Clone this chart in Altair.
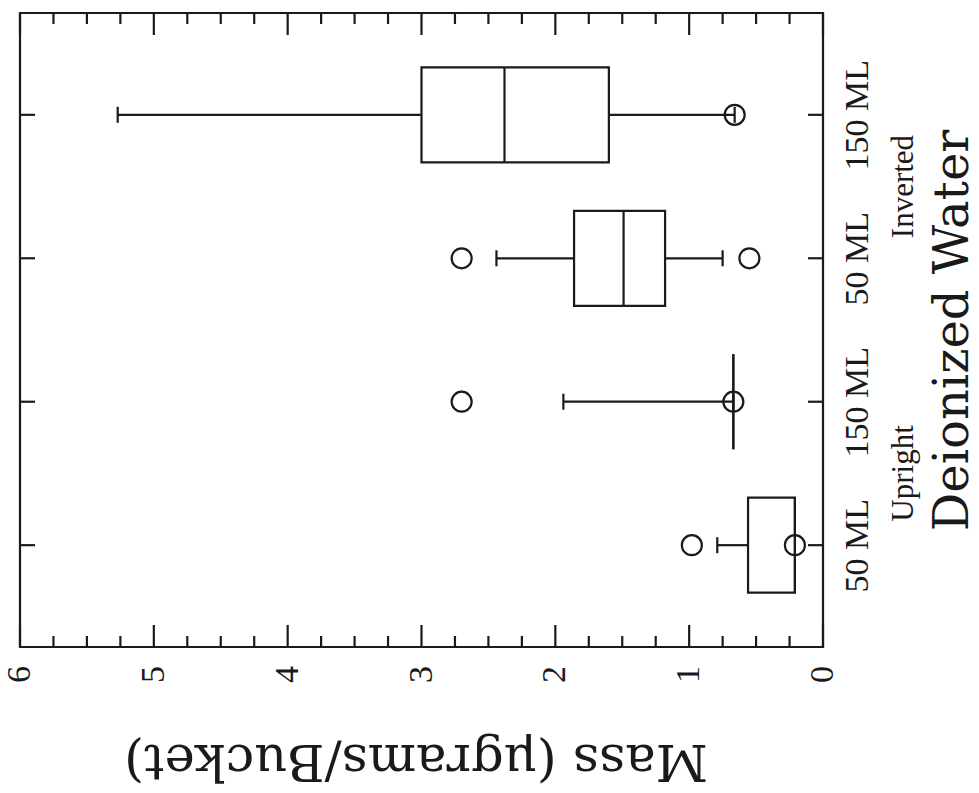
import altair as alt
import pandas as pd

# Box-plot summaries (mass per bucket, micrograms) for each collector setup
categories = ["50 ML", "150 ML", "50 ML", "150 ML"]
positions = [1, 2, 3, 4]
whisker_low = [0.21, 0.67, 0.75, 0.66]
q1 = [0.21, 0.67, 1.18, 1.60]
median = [0.21, 0.67, 1.49, 2.38]
q3 = [0.56, 0.67, 1.86, 3.00]
whisker_high = [0.79, 1.94, 2.44, 5.27]

# Individual points drawn as open circles
outlier_pos = [1, 1, 2, 2, 3, 3, 4]
outlier_val = [0.98, 0.21, 2.70, 0.67, 2.70, 0.55, 0.66]

# Orientation groups, each spanning two volumes
groups = ["Upright", "Inverted"]
group_pos = [1.5, 3.5]

# Axis tick values
major_ticks = [0, 1, 2, 3, 4, 5, 6]
minor_ticks = [v / 4 for v in range(25) if v % 4]

W, H = 803, 634
INK = "#1a1a1a"
BOX_H = 95
LW = 2.2

boxes = pd.DataFrame({
    "pos": positions, "lo": whisker_low, "q1": q1, "med": median,
    "q3": q3, "hi": whisker_high,
})
points = pd.DataFrame({"pos": outlier_pos, "val": outlier_val})
grp = pd.DataFrame({"pos": group_pos, "name": groups})
majors = pd.DataFrame({"v": major_ticks, "txt": [str(t) for t in major_ticks]})
minors = pd.DataFrame({"v": minor_ticks})

xscale = alt.Scale(domain=[0, 6], reverse=True, nice=False, zero=False)
yscale = alt.Scale(domain=[0.325, 4.675], nice=False, zero=False)

label_list = "[" + ",".join("'%s'" % c for c in categories) + "]"

xaxis = alt.Axis(
    values=major_ticks, orient="bottom", labels=False,
    domain=False, ticks=False, grid=False, tickSize=0,
    title="Mass (\u03bcgrams/Bucket)", titleFont="DejaVu Serif",
    titleFontSize=51, titleFontWeight="normal", titleColor=INK,
    titleAngle=180, titleAlign="center", titleBaseline="alphabetic",
    titleX=W / 2 - 6, titleY=97,
)
yaxis = alt.Axis(
    values=positions, orient="right", labelExpr=label_list + "[datum.value - 1]",
    domain=False, ticks=False, grid=False, tickSize=0,
    labelAngle=270, labelAlign="center", labelBaseline="top",
    labelPadding=17, labelFont="Liberation Serif", labelFontSize=34,
    labelColor=INK,
    title="Deionized Water", titleFont="DejaVu Serif", titleFontSize=48,
    titleFontWeight="normal", titleColor=INK,
    titleAngle=270, titleAlign="center", titleBaseline="alphabetic",
    titleX=144, titleY=H / 2,
)

X = lambda f: alt.X(f, type="quantitative", scale=xscale, axis=xaxis)
Y = lambda f: alt.Y(f, type="quantitative", scale=yscale, axis=yaxis)

base = alt.Chart(boxes)

whisk_low = base.mark_rule(color=INK, strokeWidth=LW).encode(
    x=X("lo"), x2="q1", y=Y("pos"))
whisk_high = base.mark_rule(color=INK, strokeWidth=LW).encode(
    x=X("q3"), x2="hi", y=Y("pos"))
caps_low = base.mark_tick(orient="vertical", size=16, thickness=LW, color=INK,
                          opacity=1).encode(x=X("lo"), y=Y("pos"))
caps_high = base.mark_tick(orient="vertical", size=16, thickness=LW, color=INK,
                           opacity=1).encode(x=X("hi"), y=Y("pos"))
box = base.mark_bar(height=BOX_H, fill="white", stroke=INK, strokeWidth=LW,
                    opacity=1).encode(x=X("q1"), x2="q3", y=Y("pos"))
med = base.mark_tick(orient="vertical", size=BOX_H, thickness=LW, color=INK,
                     opacity=1).encode(x=X("med"), y=Y("pos"))

circles = alt.Chart(points).mark_point(
    shape="circle", size=400, filled=False, stroke=INK, strokeWidth=LW, opacity=1
).encode(x=X("val"), y=Y("pos"))

group_text = alt.Chart(grp).mark_text(
    angle=270, align="center", baseline="alphabetic",
    font="Liberation Serif", fontSize=31, color=INK
).encode(text="name:N", y=Y("pos"), x=alt.value(W + 90))

# Value labels under the frame, turned like the rest of the text
value_labels = alt.Chart(majors).mark_text(
    angle=270, align="right", baseline="middle",
    font="Liberation Serif", fontSize=34, color=INK
).encode(text="txt:N", x=X("v"), y=alt.value(H + 19))

# Inward frame ticks
def frame_ticks(df, length):
    bottom = alt.Chart(df).mark_rule(color=INK, strokeWidth=LW).encode(
        x=X("v"), y=alt.value(H), y2=alt.value(H - length))
    top = alt.Chart(df).mark_rule(color=INK, strokeWidth=LW).encode(
        x=X("v"), y=alt.value(0), y2=alt.value(length))
    return bottom + top

side = alt.Chart(boxes)
side_ticks = side.mark_rule(color=INK, strokeWidth=LW).encode(
    y=Y("pos"), x=alt.value(0), x2=alt.value(15)
) + side.mark_rule(color=INK, strokeWidth=LW).encode(
    y=Y("pos"), x=alt.value(W - 15), x2=alt.value(W)
)

chart = alt.layer(
    frame_ticks(minors, 11), frame_ticks(majors[["v"]], 22), side_ticks,
    whisk_low, whisk_high, caps_low, caps_high, box, med, circles,
    group_text, value_labels,
).properties(
    width=W, height=H,
    autosize=alt.AutoSizeParams(type="none"),
    padding={"left": 20, "top": 13, "right": 979 - 20 - W, "bottom": 793 - 13 - H},
    background="white",
).configure_view(stroke=INK, strokeWidth=LW)

chart.save("out.html", embed_options={"renderer": "svg", "actions": False})
